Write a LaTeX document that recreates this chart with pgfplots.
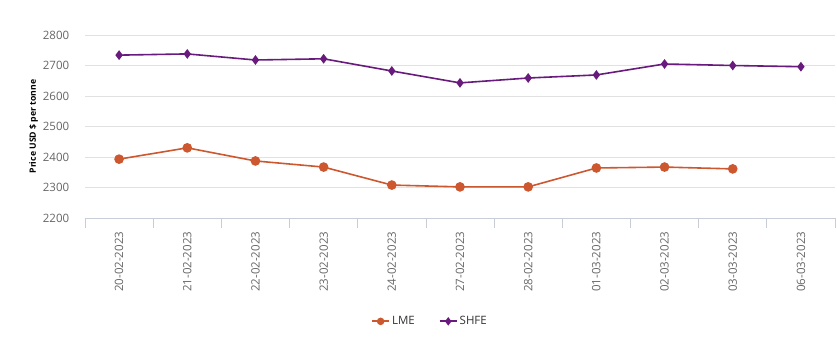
\documentclass[border=0pt]{standalone}
\usepackage{pgfplots}
\pgfplotsset{compat=1.18}
\usepackage{fontspec}
\setmainfont{Open Sans}
\definecolor{lme}{RGB}{205,88,48}
\definecolor{shfe}{RGB}{104,26,125}
\definecolor{gridc}{RGB}{225,225,225}
\definecolor{tickc}{RGB}{102,102,102}
\definecolor{axc}{RGB}{200,205,215}
\begin{document}
\begin{tikzpicture}
\begin{axis}[
  scale only axis, width=750pt, height=183pt,
  xmin=-0.5, xmax=10.5, ymin=2200, ymax=2800,
  ytick={2200,2300,...,2800},
  xtick={0,...,10},
  xticklabels={20-02-2023,21-02-2023,22-02-2023,23-02-2023,24-02-2023,27-02-2023,28-02-2023,01-03-2023,02-03-2023,03-03-2023,06-03-2023},
  minor xtick={-0.5,0.5,...,10.5},
  major x tick style={draw=none},
  minor x tick style={draw=axc, line width=0.8pt},
  minor tick length=10pt,
  tick align=outside,
  x tick label style={rotate=90, anchor=east, font=\fontsize{11.5}{12}\selectfont, text=tickc, yshift=0pt, xshift=-6pt},
  y tick label style={font=\fontsize{11.5}{12}\selectfont, text=tickc, xshift=-8pt},
  major y tick style={draw=none},
  /pgf/number format/assume math mode=true,
  yticklabel={\pgfmathprintnumber[fixed,1000 sep={}]{\tick}},
  ymajorgrids, grid style={gridc, line width=0.8pt},
  axis line style={draw=none},
  axis x line*=bottom, axis y line*=left,
  ylabel={\textbf{Price USD \$ per tonne}},
  ylabel style={font=\fontsize{8.7}{10}\selectfont, yshift=-2pt},
  legend style={at={(0.46,-0.515)}, anchor=north, draw=none, legend columns=2, font=\fontsize{11.5}{12}\selectfont\color[RGB]{51,51,51}, /tikz/every even column/.append style={column sep=22pt}},
  legend image code/.code={\draw[#1, line width=1.8pt, mark size=2.8pt, mark repeat=2, mark phase=2] plot coordinates {(0cm,0cm) (0.3cm,0cm) (0.6cm,0cm)};},
  legend cell align=left,
  clip=false,
]
\draw[axc, line width=0.9pt] (rel axis cs:0,0) -- (rel axis cs:1,0);
\addplot[lme, line width=1.6pt, mark=*, mark size=4pt] coordinates {
(0,2393)(1,2430)(2,2387)(3,2367)(4,2308)(5,2302)(6,2302)(7,2364)(8,2367)(9,2361)};
\addlegendentry{LME}
\addplot[shfe, line width=1.6pt, mark=diamond*, mark size=3.6pt] coordinates {
(0,2734)(1,2738)(2,2718)(3,2722)(4,2682)(5,2643)(6,2659)(7,2669)(8,2705)(9,2700)(10,2696)};
\addlegendentry{SHFE}
\end{axis}
\useasboundingbox ([xshift=-85pt,yshift=-119pt]current axis.south west) rectangle ([xshift=2pt,yshift=35pt]current axis.north east);
\end{tikzpicture}
\end{document}
